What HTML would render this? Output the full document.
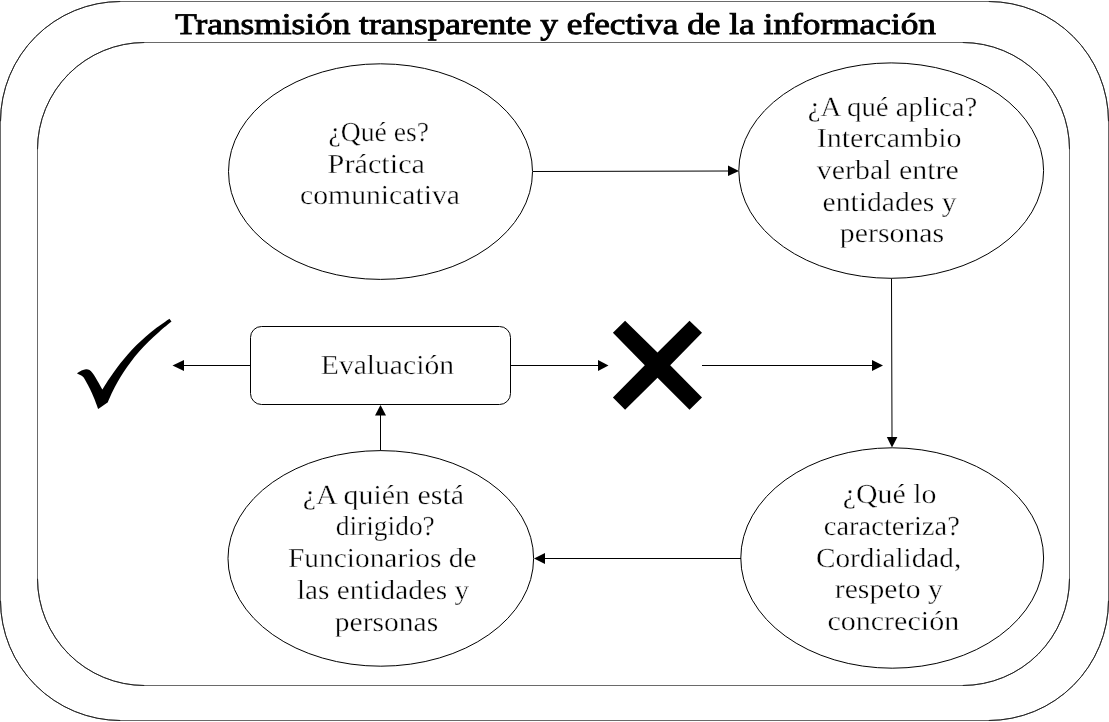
<!DOCTYPE html>
<html><head><meta charset="utf-8"><title>Transmisión transparente</title>
<style>
html,body{margin:0;padding:0;background:#fff;width:1109px;height:722px;overflow:hidden}
svg{display:block;filter:grayscale(1)}
text{font-family:"Liberation Serif",serif;fill:#000;stroke:#fff;stroke-width:0.35px;text-rendering:geometricPrecision}
</style></head><body>
<svg width="1109" height="722" viewBox="0 0 1109 722">
<g fill="none" stroke="#6a6a6a" stroke-width="1">
<rect x="0.5" y="1.5" width="1108" height="719" rx="120" ry="120"/>
<rect x="37.5" y="42.5" width="1032" height="643" rx="107" ry="107"/>
</g>
<g fill="none" stroke="#222" stroke-width="1">
<path d="M0.5,121.5 A120,120 0 0 1 120.5,1.5 M988.5,1.5 A120,120 0 0 1 1108.5,121.5 M1108.5,600.5 A120,120 0 0 1 988.5,720.5 M120.5,720.5 A120,120 0 0 1 0.5,600.5"/>
<path d="M37.5,149.5 A107,107 0 0 1 144.5,42.5 M962.5,42.5 A107,107 0 0 1 1069.5,149.5 M1069.5,578.5 A107,107 0 0 1 962.5,685.5 M144.5,685.5 A107,107 0 0 1 37.5,578.5"/>
</g>
<g fill="none" stroke="#000" stroke-width="1">
<ellipse cx="380.5" cy="171.6" rx="152" ry="107.8"/>
<ellipse cx="891.2" cy="170.6" rx="152.4" ry="107.7"/>
<ellipse cx="892.2" cy="558" rx="151.4" ry="110.2"/>
<ellipse cx="380.8" cy="558.4" rx="152.8" ry="107.8"/>
<rect x="250.5" y="326.5" width="260" height="78" rx="11" ry="11"/>
<path d="M533 171.5 L729 171"/>
<path d="M891.5 278.5 L892 437"/>
<path d="M741 558.5 L545 558.5"/>
<path d="M380.5 450.5 L380.5 415"/>
<path d="M250 365.5 L183 365.5"/>
<path d="M511 365.5 L598 365.5"/>
<path d="M702 365.5 L872 365.5"/>
</g>
<g fill="#000" stroke="none">
<polygon points="739,171 728,165.5 728,176"/>
<polygon points="892,447.5 886.8,437 897.4,437"/>
<polygon points="534,558.5 545,553 545,564"/>
<polygon points="380.5,405 375,415.5 386,415.5"/>
<polygon points="172.5,365.5 184,360 184,371"/>
<polygon points="608.5,365.5 598,360 598,371"/>
<polygon points="883,365.5 872,360 872,371"/>
<polygon points="625.1,320.7 657.5,352.6 689.5,320.7 702,332.8 670.2,365.2 702,397.6 689.5,409.7 657.5,377.8 625.1,409.7 612.9,397.6 644.8,365.2 612.9,332.8"/>
<path d="M77,373.4 C77.75,372.92 80.00,371.20 81.50,370.50 C83.00,369.80 84.67,369.28 86.00,369.20 C87.33,369.12 88.42,369.37 89.50,370.00 C90.58,370.63 91.50,371.75 92.50,373.00 C93.50,374.25 94.42,375.75 95.50,377.50 C96.58,379.25 97.85,381.48 99.00,383.50 C100.15,385.52 101.83,388.58 102.40,389.60 C103.30,388.12 105.90,383.69 107.82,380.74 C109.74,377.78 111.82,374.83 113.94,371.88 C116.07,368.92 118.24,365.97 120.58,363.01 C122.91,360.06 125.33,357.10 127.95,354.15 C130.57,351.20 133.31,348.24 136.30,345.29 C139.29,342.33 142.43,339.38 145.86,336.43 C149.29,333.47 152.94,330.52 156.86,327.56 C160.79,324.61 167.31,320.18 169.40,318.70 L171.5,321.6 C169.48,323.28 163.19,328.32 159.35,331.68 C155.51,335.03 151.85,338.39 148.46,341.75 C145.06,345.11 141.92,348.47 138.97,351.82 C136.02,355.18 133.31,358.54 130.76,361.90 C128.21,365.26 125.87,368.62 123.67,371.98 C121.47,375.33 119.47,378.69 117.57,382.05 C115.68,385.41 113.93,388.77 112.32,392.12 C110.71,395.48 108.64,400.52 107.90,402.20 L98.2,409 C97.50,407.17 95.37,401.32 94.00,398.00 C92.63,394.68 91.33,391.85 90.00,389.10 C88.67,386.35 87.22,383.60 86.00,381.50 C84.78,379.40 84.20,377.85 82.70,376.50 C81.20,375.15 77.95,373.92 77.00,373.40 Z"/>
</g>
<g opacity="0.995">
<text x="175.20" y="33.80" font-size="30" style="stroke:#000;stroke-width:0.9px" textLength="760.80" lengthAdjust="spacingAndGlyphs">Transmisión transparente y efectiva de la información</text>
<text x="328.60" y="140.80" font-size="27.5" textLength="100.40" lengthAdjust="spacingAndGlyphs">¿Qué es?</text>
<text x="327.60" y="173.00" font-size="27.5" textLength="97.40" lengthAdjust="spacingAndGlyphs">Práctica</text>
<text x="300.00" y="203.80" font-size="27.5" textLength="160.00" lengthAdjust="spacingAndGlyphs">comunicativa</text>
<text x="807.80" y="115.60" font-size="27.5" textLength="169.60" lengthAdjust="spacingAndGlyphs">¿A qué aplica?</text>
<text x="816.80" y="147.40" font-size="27.5" textLength="144.80" lengthAdjust="spacingAndGlyphs">Intercambio</text>
<text x="816.80" y="178.80" font-size="27.5" textLength="142.00" lengthAdjust="spacingAndGlyphs">verbal entre</text>
<text x="822.60" y="211.00" font-size="27.5" textLength="134.00" lengthAdjust="spacingAndGlyphs">entidades y</text>
<text x="839.80" y="241.70" font-size="27.5" textLength="104.40" lengthAdjust="spacingAndGlyphs">personas</text>
<text x="302.80" y="503.70" font-size="27.5" textLength="161.20" lengthAdjust="spacingAndGlyphs">¿A quién está</text>
<text x="335.80" y="535.30" font-size="27.5" textLength="99.00" lengthAdjust="spacingAndGlyphs">dirigido?</text>
<text x="288.00" y="567.30" font-size="27.5" textLength="188.60" lengthAdjust="spacingAndGlyphs">Funcionarios de</text>
<text x="297.00" y="599.20" font-size="27.5" textLength="172.00" lengthAdjust="spacingAndGlyphs">las entidades y</text>
<text x="334.80" y="630.80" font-size="27.5" textLength="103.40" lengthAdjust="spacingAndGlyphs">personas</text>
<text x="842.80" y="502.90" font-size="27.5" textLength="93.60" lengthAdjust="spacingAndGlyphs">¿Qué lo</text>
<text x="823.80" y="535.30" font-size="27.5" textLength="136.00" lengthAdjust="spacingAndGlyphs">caracteriza?</text>
<text x="816.00" y="566.80" font-size="27.5" textLength="145.20" lengthAdjust="spacingAndGlyphs">Cordialidad,</text>
<text x="834.80" y="598.40" font-size="27.5" textLength="108.00" lengthAdjust="spacingAndGlyphs">respeto y</text>
<text x="827.40" y="629.60" font-size="27.5" textLength="131.80" lengthAdjust="spacingAndGlyphs">concreción</text>
<text x="320.80" y="373.80" font-size="27.5" textLength="133.20" lengthAdjust="spacingAndGlyphs">Evaluación</text>
</g>
</svg>
</body></html>
